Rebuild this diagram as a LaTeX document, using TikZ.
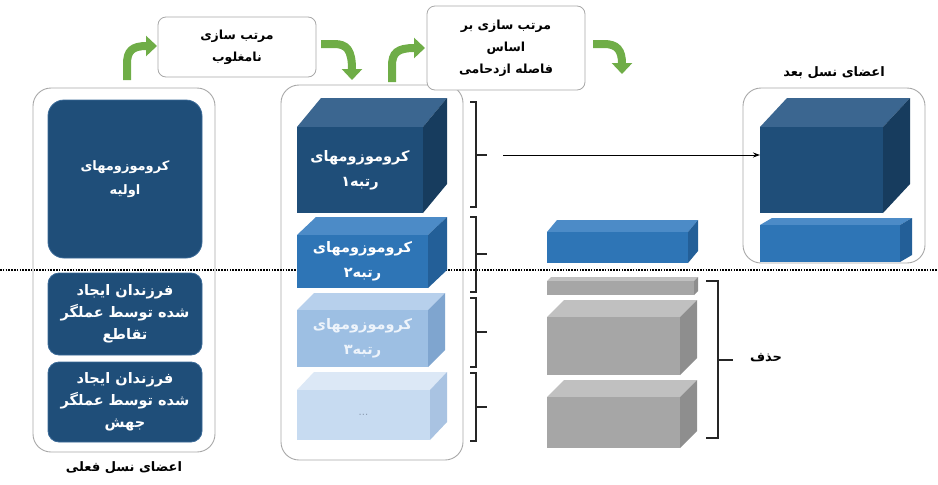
\documentclass[tikz,border=0pt]{standalone}
\usepackage{fontspec}
\setmainfont{DejaVu Sans}
\newfontfamily\arabicfont[Script=Arabic]{DejaVu Sans}
\TeXXeTstate=1
\usetikzlibrary{arrows.meta}
\newcommand{\fa}[1]{\beginR#1\endR}
\definecolor{darkbox}{HTML}{1F4E79}
\definecolor{darkedge}{HTML}{3A6A98}
\definecolor{outeredge}{HTML}{A8A8A8}
\definecolor{arrgreen}{HTML}{6FAD47}
\definecolor{rAfront}{HTML}{1F4E79}\definecolor{rAtop}{HTML}{3B6690}\definecolor{rAside}{HTML}{173C5E}\definecolor{rAtxt}{HTML}{FFFFFF}
\definecolor{rBfront}{HTML}{2E75B6}\definecolor{rBtop}{HTML}{4C8BC7}\definecolor{rBside}{HTML}{235F98}\definecolor{rBtxt}{HTML}{FFFFFF}
\definecolor{rCfront}{HTML}{9DBFE3}\definecolor{rCtop}{HTML}{B7D0EC}\definecolor{rCside}{HTML}{7FA5CF}\definecolor{rCtxt}{HTML}{EEF4FB}
\definecolor{rDfront}{HTML}{C7DBF1}\definecolor{rDtop}{HTML}{DCE8F6}\definecolor{rDside}{HTML}{A9C3E2}\definecolor{rDtxt}{HTML}{8A9BB0}
\definecolor{gYfront}{HTML}{A6A6A6}\definecolor{gYtop}{HTML}{C0C0C0}\definecolor{gYside}{HTML}{8E8E8E}\definecolor{gYtxt}{HTML}{FFFFFF}
\tikzset{
  outerbox/.style={draw=outeredge, line width=0.9pt, rounded corners=18pt, fill=white, inner sep=0pt},
  topbox/.style={draw=outeredge, line width=0.8pt, rounded corners=8pt, fill=white, align=center,
    font=\arabicfont\bfseries\fontsize{12.5}{22}\selectfont, inner sep=0pt},
  innerbox/.style={draw=darkedge, line width=0.8pt, fill=darkbox, text=white, align=center,
    font=\arabicfont\bfseries\fontsize{14.5}{22}\selectfont, inner sep=0pt, minimum width=154pt},
  cubefront/.style={inner sep=0pt, outer sep=0pt, align=center, font=\arabicfont\bfseries\fontsize{14.5}{25}\selectfont},
  greenarrow/.style={draw=arrgreen, line width=8pt, -{Triangle[length=11pt,width=20pt]}},
  bracket/.style={draw=black!85, line width=1.3pt},
  caption/.style={font=\arabicfont\bfseries\fontsize{13}{16}\selectfont, inner sep=0pt},
  dotline/.style={draw=black, line width=1.8pt, dash pattern=on 1.5pt off 1.3pt}
}
\newcommand{\cub}[9]{%
  \fill[#8top] (#2,#3) -- (#2+#6,#3-#7) -- (#4+#6,#3-#7) -- (#4,#3) -- cycle;
  \fill[#8side] (#4,#3) -- (#4+#6,#3-#7) -- (#4+#6,#5-#7) -- (#4,#5) -- cycle;
  \node[cubefront, fill=#8front, text=#8txt, minimum width={(#4-#2)*1pt}, minimum height={(#5-#3)*1pt}] (#1) at ({(#2+#4)/2},{(#3+#5)/2}) {#9};
}
\begin{document}
\begin{tikzpicture}[x=1pt,y=-1pt]
\useasboundingbox (0,0) rectangle (938,485);
% outer containers
\node[outerbox, minimum width=182pt, minimum height=364pt] (curpop) at (124,270) {};
\node[outerbox, minimum width=182pt, minimum height=375pt] (sorted) at (372,272.5) {};
\node[outerbox, minimum width=182pt, minimum height=175pt] (nextpop) at (834,175.5) {};
% captions
\node[caption] (curcap) at (124,468) {\fa{اعضای نسل فعلی}};
\node[caption] (nextcap) at (834,73) {\fa{اعضای نسل بعد}};
% dotted cut line
\coordinate (cutL) at (0,270);
\coordinate (cutR) at (938,270);
\draw[dotline] (cutL) -- (cutR);
% left inner boxes
\node[innerbox, rounded corners=16pt, minimum height=158pt, font=\arabicfont\bfseries\fontsize{13}{24}\selectfont] (initial) at (125,179) {\fa{کروموزومهای}\\\fa{اولیه}};
\node[innerbox, rounded corners=11pt, minimum height=82pt] (cross) at (125,314) {\fa{فرزندان ایجاد}\\\fa{شده توسط عملگر}\\\fa{تقاطع}};
\node[innerbox, rounded corners=11pt, minimum height=80pt] (mut) at (125,402) {\fa{فرزندان ایجاد}\\\fa{شده توسط عملگر}\\\fa{جهش}};
% ranked cuboids
\cub{rankA}{297}{127}{423}{213}{24}{29}{rA}{\fa{کروموزومهای}\\\fa{رتبه۱}}
\cub{rankB}{297}{235}{428}{288}{19}{18}{rB}{\fa{کروموزومهای}\\\fa{رتبه۲}}
\cub{rankC}{297}{310}{428}{367}{17}{17}{rC}{\fa{کروموزومهای}\\\fa{رتبه۳}}
\cub{rankD}{297}{390}{430}{440}{17}{18}{rD}{\mdseries\fontsize{10}{12}\selectfont ...}
% middle right pieces
\cub{keepB}{547}{232}{688}{263}{10}{12}{rB}{}
\cub{cutB}{547}{281}{694}{295}{4}{4}{gY}{}
\cub{delC}{547}{317}{680}{375}{17}{17}{gY}{}
\cub{delD}{547}{397}{680}{448}{17}{17}{gY}{}
% next generation
\cub{nextA}{760}{127}{883}{213}{27}{29}{rA}{}
\cub{nextB}{760}{225}{900}{262}{12}{7}{rB}{}
% top sorting boxes
\node[topbox, minimum width=158pt, minimum height=60pt] (nds) at (237,47) {\fa{مرتب سازی}\\\fa{نامغلوب}};
\node[topbox, minimum width=158pt, minimum height=84pt] (crowd) at (506,48) {\fa{مرتب سازی بر}\\\fa{اساس}\\\fa{فاصله ازدحامی}};
% green arrows
\coordinate (gAs) at (127,80); \coordinate (gAe) at (157,46);
\coordinate (gBs) at (321,44); \coordinate (gBe) at (352,80);
\coordinate (gCs) at (392,82); \coordinate (gCe) at (425,48);
\coordinate (gDs) at (593,44); \coordinate (gDe) at (622,74);
\draw[greenarrow] (gAs) -- (127,64) .. controls (127,51) and (132,46) .. (gAe);
\draw[greenarrow] (gBs) -- (334,44) .. controls (347,44) and (352,50) .. (gBe);
\draw[greenarrow] (gCs) -- (392,66) .. controls (392,53) and (397,48) .. (gCe);
\draw[greenarrow] (gDs) -- (604,44) .. controls (617,44) and (622,50) .. (gDe);
% brackets by rank
\coordinate (bAt) at (470,102); \coordinate (bAb) at (470,207);
\coordinate (bBt) at (470,217); \coordinate (bBb) at (470,292);
\coordinate (bCt) at (470,298); \coordinate (bCb) at (470,367);
\coordinate (bDt) at (470,373); \coordinate (bDb) at (470,441);
\draw[bracket] (bAt) -| (476,207) -- (bAb) (476,155) -- (487,155);
\draw[bracket] (bBt) -| (476,292) -- (bBb) (476,254) -- (487,254);
\draw[bracket] (bCt) -| (476,367) -- (bCb) (476,332) -- (487,332);
\draw[bracket] (bDt) -| (476,441) -- (bDb) (476,407) -- (487,407);
% transfer of rank 1
\coordinate (moveA) at (503,155);
\draw[line width=1pt, -{Stealth[length=7pt,width=5pt]}] (moveA) -- (moveA -| nextA.west);
% deletion bracket
\coordinate (dTop) at (706,281); \coordinate (dBot) at (706,438);
\draw[bracket] (dTop) -| (718,438) -- (dBot) (718,360) -- (733,360);
\node[caption] (delete) at (766,358) {\fa{حذف}};
\end{tikzpicture}
\end{document}
